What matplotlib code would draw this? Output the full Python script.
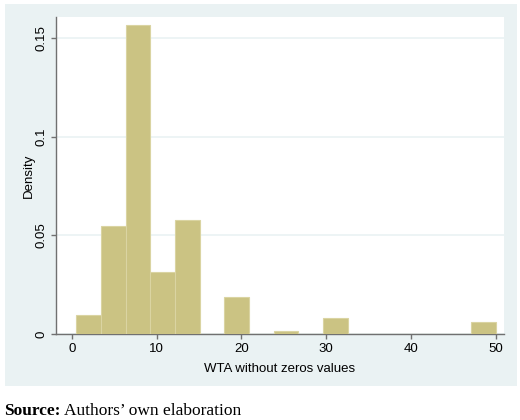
import matplotlib
matplotlib.use("Agg")
import matplotlib.pyplot as plt
from matplotlib.patches import Rectangle

# Histogram bins (left edges) and densities
bin_left = [0.5, 3.41, 6.32, 9.24, 12.15, 15.06, 17.97, 20.88, 23.79, 26.71,
            29.62, 32.53, 35.44, 38.35, 41.26, 44.18, 47.09]
bin_width = 2.912
density = [0.0095, 0.0548, 0.1569, 0.0315, 0.0579, 0.0, 0.0186, 0.0, 0.0015, 0.0,
           0.0083, 0.0, 0.0, 0.0, 0.0, 0.0, 0.0059]
x_ticks = [0, 10, 20, 30, 40, 50]
y_ticks = [0, 0.05, 0.1, 0.15]
y_tick_labels = ["0", "0.05", "0.1", "0.15"]
x_label = "WTA without zeros values"
y_label = "Density"

W, H = 520, 420
fig = plt.figure(figsize=(W / 100, H / 100), dpi=100)
fig.patch.set_facecolor("white")

bg = "#EAF2F3"
fig.patches.append(Rectangle((5 / W, 1 - 386 / H), (517 - 5) / W, (386 - 4) / H,
                             transform=fig.transFigure, facecolor=bg,
                             edgecolor="none", zorder=-5))

ax = fig.add_axes([56 / W, 1 - 334 / H, (504 - 56) / W, (334 - 17) / H])
ax.set_zorder(2)
ax.set_facecolor("white")
ax.bar(bin_left, density, width=bin_width, align="edge",
       color="#CBC383", edgecolor="#DAD4A2", linewidth=0.8, zorder=3)

ax.set_xlim(-1.89, 51.0)
ax.set_ylim(0, 0.1609)
ax.set_xticks(x_ticks)
ax.set_yticks(y_ticks)
ax.set_yticklabels(y_tick_labels, rotation=90, va="center")
ax.grid(axis="y", color=bg, linewidth=1.2, zorder=1)
ax.set_axisbelow(True)

for s in ["top", "right"]:
    ax.spines[s].set_visible(False)
for s in ["left", "bottom"]:
    ax.spines[s].set_color("#707070")
    ax.spines[s].set_linewidth(1.0)

fam = ["Liberation Sans", "DejaVu Sans"]
ax.tick_params(axis="both", color="#707070", length=3.6, width=1.0,
               labelsize=9.5, labelcolor="black")
ax.tick_params(axis="x", pad=3)
ax.tick_params(axis="y", pad=2.5)
for lab in ax.get_xticklabels() + ax.get_yticklabels():
    lab.set_fontfamily(fam)
ax.set_xlabel(x_label, fontsize=9.5, family=fam, labelpad=6)
ax.set_ylabel(y_label, fontsize=9.5, family=fam)
ax.yaxis.set_label_coords(-0.048, 0.5)

sfam = ["Liberation Serif", "DejaVu Serif"]
t1 = fig.text(4 / W, 1 - 415 / H, "Source:", fontsize=12.5, fontweight="bold",
              family=sfam, ha="left", va="baseline")
fig.canvas.draw()
bb = t1.get_window_extent()
fig.text(bb.x1 / W + 4 / W, 1 - 415 / H, "Authors\u2019 own elaboration",
         fontsize=12.5, family=sfam, ha="left", va="baseline")

fig.savefig("out.png", dpi=100, facecolor="white")
